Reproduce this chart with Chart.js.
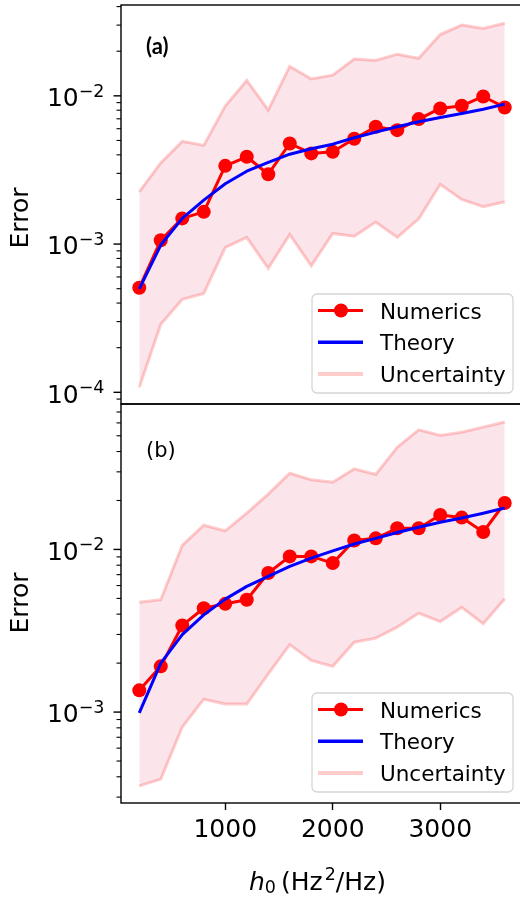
<!DOCTYPE html>
<html lang="en">

<head>
    <meta charset="UTF-8">
    <meta name="viewport" content="width=device-width, initial-scale=1.0">
    <title>Error vs h0</title>
    <style>
        body { margin: 0; background: #fff; }
        #wrap { position: relative; width: 520px; height: 898px; overflow: hidden; }
        #wrap canvas { position: absolute; left: 0; }
    </style>
</head>

<body>
    <div id="wrap">
        <canvas id="chartA" width="530" height="420" style="top: 0;"></canvas>
        <canvas id="chartB" width="530" height="498" style="top: 400px;"></canvas>
    </div>

    <script src="https://cdn.jsdelivr.net/npm/chart.js@4.4.1/dist/chart.umd.min.js"></script>
    <script>
        // h0 values (Hz^2/Hz)
        const h0 = [200, 400, 600, 800, 1000, 1200, 1400, 1600, 1800, 2000,
            2200, 2400, 2600, 2800, 3000, 3200, 3400, 3600];

        // panel (a)
        const numericsA = [5.07e-4, 1.06e-3, 1.49e-3, 1.65e-3, 3.37e-3, 3.88e-3, 2.96e-3, 4.77e-3, 4.09e-3,
            4.19e-3, 5.13e-3, 6.18e-3, 5.87e-3, 6.97e-3, 8.22e-3, 8.57e-3, 9.9e-3, 8.35e-3];
        const theoryA = [4.98e-4, 9.85e-4, 1.49e-3, 1.98e-3, 2.55e-3, 3.1e-3, 3.56e-3, 4.04e-3, 4.4e-3,
            4.72e-3, 5.21e-3, 5.69e-3, 6.18e-3, 6.68e-3, 7.14e-3, 7.6e-3, 8.13e-3, 8.79e-3];
        const upperA = [2.25e-3, 3.53e-3, 4.93e-3, 4.63e-3, 8.52e-3, 1.27e-2, 8.01e-3, 1.58e-2, 1.3e-2,
            1.38e-2, 1.77e-2, 1.73e-2, 1.91e-2, 1.79e-2, 2.59e-2, 3.0e-2, 2.85e-2, 3.09e-2];
        const lowerA = [1.08e-4, 2.88e-4, 4.24e-4, 4.65e-4, 9.5e-4, 1.11e-3, 6.86e-4, 1.16e-3, 7.14e-4,
            1.18e-3, 1.13e-3, 1.41e-3, 1.11e-3, 1.48e-3, 2.53e-3, 2.0e-3, 1.79e-3, 1.93e-3];

        // panel (b)
        const numericsB = [1.36e-3, 1.91e-3, 3.41e-3, 4.35e-3, 4.63e-3, 4.91e-3, 7.16e-3, 9.06e-3, 9.06e-3,
            8.24e-3, 1.135e-2, 1.17e-2, 1.35e-2, 1.35e-2, 1.63e-2, 1.57e-2, 1.28e-2, 1.93e-2];
        const theoryB = [9.9e-4, 2.0e-3, 2.99e-3, 3.96e-3, 4.95e-3, 5.93e-3, 6.83e-3, 7.86e-3, 8.85e-3,
            9.8e-3, 1.08e-2, 1.17e-2, 1.27e-2, 1.37e-2, 1.47e-2, 1.56e-2, 1.67e-2, 1.8e-2];
        const upperB = [4.74e-3, 4.91e-3, 1.06e-2, 1.41e-2, 1.3e-2, 1.67e-2, 2.19e-2, 2.94e-2, 2.68e-2,
            2.59e-2, 3.13e-2, 2.89e-2, 4.25e-2, 5.44e-2, 5.02e-2, 5.26e-2, 5.65e-2, 6.07e-2];
        const lowerB = [3.52e-4, 3.87e-4, 8.09e-4, 1.2e-3, 1.12e-3, 1.12e-3, 1.72e-3, 2.6e-3, 2.08e-3,
            1.91e-3, 2.69e-3, 2.85e-3, 3.33e-3, 4.06e-3, 3.6e-3, 4.41e-3, 3.49e-3, 4.98e-3];

        // axis ticks
        const xTicks = [1000, 2000, 3000];
        const yMajorA = [1e-4, 1e-3, 1e-2];
        const yMajorB = [1e-3, 1e-2];

        const FONT = '"DejaVu Sans", sans-serif';

        function pts(ys) {
            return h0.map((x, i) => ({ x: x, y: ys[i] }));
        }

        function minorTicks(min, max) {
            const out = [];
            for (let e = -6; e <= 0; e++) {
                for (let m = 2; m <= 9; m++) {
                    const v = m * Math.pow(10, e);
                    if (v >= min && v <= max) out.push(v);
                }
            }
            return out;
        }

        // spines, log ticks with 10^n labels, axis titles, panel tag and legend
        const decor = {
            id: 'decor',
            afterDraw(chart, args, opts) {
                const ctx = chart.ctx;
                const a = chart.chartArea;
                const ys = chart.scales.y;
                ctx.save();

                // spines
                ctx.strokeStyle = '#000';
                ctx.lineWidth = 1.4;
                ctx.strokeRect(a.left, a.top, a.right - a.left, a.bottom - a.top);

                // y ticks
                minorTicks(ys.min, ys.max).forEach(v => {
                    const y = ys.getPixelForValue(v);
                    ctx.lineWidth = 1.1;
                    ctx.beginPath(); ctx.moveTo(a.left - 4.5, y); ctx.lineTo(a.left, y); ctx.stroke();
                });
                opts.majors.forEach(v => {
                    const y = ys.getPixelForValue(v);
                    ctx.lineWidth = 1.4;
                    ctx.beginPath(); ctx.moveTo(a.left - 7.5, y); ctx.lineTo(a.left, y); ctx.stroke();

                    const sup = '\u2212' + Math.abs(Math.round(Math.log10(v)));
                    ctx.fillStyle = '#000';
                    ctx.textAlign = 'left';
                    ctx.textBaseline = 'alphabetic';
                    ctx.font = '17.5px ' + FONT;
                    const w2 = ctx.measureText(sup).width;
                    ctx.fillText(sup, 104.5 - w2, y + 1);
                    ctx.font = '25px ' + FONT;
                    const w1 = ctx.measureText('10').width;
                    ctx.fillText('10', 104.5 - w2 - w1, y + 10.3);
                });

                // y title
                ctx.save();
                ctx.translate(21, opts.titleY);
                ctx.rotate(-Math.PI / 2);
                ctx.font = '25px ' + FONT;
                ctx.textAlign = 'center';
                ctx.textBaseline = 'middle';
                ctx.fillText('Error', 0, 0);
                ctx.restore();

                // panel tag
                ctx.font = opts.tagFont;
                ctx.textAlign = 'left';
                ctx.textBaseline = 'alphabetic';
                ctx.fillText(opts.tag, 146, a.top + opts.tagDy);

                // x title: h_0 (Hz^2/Hz)
                if (opts.xTitle) {
                    const base = 490;
                    let x = 249;
                    ctx.font = 'oblique 25px ' + FONT;
                    ctx.fillText('h', x, base);
                    x += ctx.measureText('h').width;
                    ctx.font = '17.5px ' + FONT;
                    ctx.fillText('0', x, base + 3);
                    x += ctx.measureText('0').width + 5;
                    ctx.font = '25px ' + FONT;
                    ctx.fillText('(Hz', x, base);
                    x += ctx.measureText('(Hz').width + 2;
                    ctx.font = '17.5px ' + FONT;
                    ctx.fillText('2', x, base - 10);
                    x += ctx.measureText('2').width;
                    ctx.font = '25px ' + FONT;
                    ctx.fillText('/Hz)', x, base);
                }

                // legend
                const bw = 201, bh = 99;
                const bx = a.right - 10 - bw, by = a.bottom - 11 - bh;
                ctx.beginPath();
                ctx.roundRect(bx, by, bw, bh, 5);
                ctx.fillStyle = 'rgba(255,255,255,0.85)';
                ctx.fill();
                ctx.strokeStyle = '#d5d5d5';
                ctx.lineWidth = 1.3;
                ctx.stroke();

                const rows = [
                    { label: 'Numerics', color: '#ff0000', width: 3, marker: true },
                    { label: 'Theory', color: '#0000ff', width: 3.5, marker: false },
                    { label: 'Uncertainty', color: 'rgba(255,0,0,0.2)', width: 4, marker: false }
                ];
                rows.forEach((r, i) => {
                    const y = by + 16.5 + i * 31.7;
                    ctx.strokeStyle = r.color;
                    ctx.lineWidth = r.width;
                    ctx.beginPath(); ctx.moveTo(bx + 6, y); ctx.lineTo(bx + 51, y); ctx.stroke();
                    if (r.marker) {
                        ctx.fillStyle = r.color;
                        ctx.beginPath(); ctx.arc(bx + 29, y, 7, 0, Math.PI * 2); ctx.fill();
                    }
                    ctx.fillStyle = '#000';
                    ctx.font = '21.5px ' + FONT;
                    ctx.fillText(r.label, bx + 68, y + 8);
                });

                ctx.restore();
            }
        };

        function makeChart(id, numerics, theory, upper, lower, yMin, yMax, showX, decorOpts) {
            const ctx = document.getElementById(id);
            const config = {
                type: 'line',
                data: {
                    datasets: [
                        {
                            label: 'Theory',
                            data: pts(theory),
                            borderColor: '#0000ff',
                            borderWidth: 3,
                            pointRadius: 0,
                            borderJoinStyle: 'round',
                            order: 0
                        },
                        {
                            label: 'Numerics',
                            data: pts(numerics),
                            borderColor: '#ff0000',
                            backgroundColor: '#ff0000',
                            borderWidth: 3,
                            pointRadius: 7,
                            pointBorderWidth: 0,
                            pointBackgroundColor: '#ff0000',
                            borderJoinStyle: 'round',
                            order: 1
                        },
                        {
                            label: 'Uncertainty',
                            data: pts(upper),
                            borderColor: 'rgba(255,0,0,0.2)',
                            backgroundColor: 'rgba(240,160,180,0.27)',
                            borderWidth: 3,
                            pointRadius: 0,
                            fill: '+1',
                            order: 2
                        },
                        {
                            label: 'lower',
                            data: pts(lower),
                            borderColor: 'rgba(255,0,0,0.2)',
                            borderWidth: 3,
                            pointRadius: 0,
                            fill: false,
                            order: 3
                        }
                    ]
                },
                options: {
                    responsive: false,
                    animation: false,
                    layout: {
                        autoPadding: false,
                        padding: showX ? { left: 0, top: 4, right: 7, bottom: 0 } : { left: 0, top: 5, right: 7, bottom: 16 }
                    },
                    plugins: {
                        legend: { display: false },
                        tooltip: { enabled: false },
                        filler: { drawTime: 'beforeDatasetsDraw' },
                        decor: decorOpts
                    },
                    scales: {
                        x: {
                            type: 'linear',
                            min: 30,
                            max: 3770,
                            display: showX,
                            afterBuildTicks: s => { s.ticks = xTicks.map(v => ({ value: v })); },
                            afterFit: s => { if (showX) s.height = 95; },
                            grid: { drawOnChartArea: false, tickLength: 7, tickColor: '#000', tickWidth: 1.4 },
                            border: { display: false },
                            ticks: {
                                color: '#000',
                                padding: 5,
                                font: { family: 'DejaVu Sans', size: 25 },
                                maxRotation: 0,
                                callback: v => String(v)
                            }
                        },
                        y: {
                            type: 'logarithmic',
                            min: yMin,
                            max: yMax,
                            afterFit: s => { s.width = 121; },
                            grid: { display: false },
                            border: { display: false },
                            ticks: { display: false }
                        }
                    }
                },
                plugins: [decor]
            };
            return new Chart(ctx, config);
        }

        makeChart('chartA', numericsA, theoryA, upperA, lowerA, 8.34e-5, 0.041, false,
            { majors: yMajorA, titleY: 218, tag: '(a)', tagFont: 'bold 22px Lato', tagDy: 49, xTitle: false });
        makeChart('chartB', numericsB, theoryB, upperB, lowerB, 2.76e-4, 0.0784, true,
            { majors: yMajorB, titleY: 203, tag: '(b)', tagFont: '21px "DejaVu Sans"', tagDy: 53, xTitle: true });
    </script>

</body>

</html>
